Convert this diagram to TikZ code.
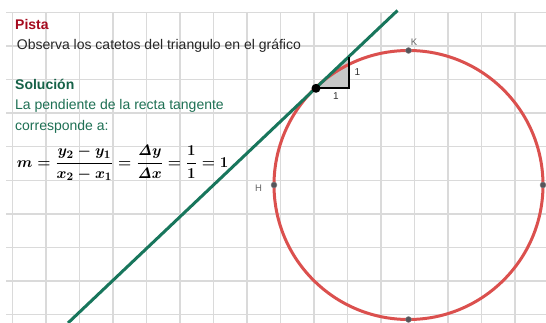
\documentclass[tikz,border=0pt]{standalone}
\usepackage{graphicx}
\usepackage[no-math]{fontspec}
\setmainfont{Liberation Sans}
\definecolor{gridc}{RGB}{218,218,218}
\definecolor{circc}{RGB}{219,80,78}
\definecolor{linec}{RGB}{24,118,92}
\definecolor{pistac}{RGB}{165,10,30}
\definecolor{solc}{RGB}{22,98,72}
\definecolor{txtc}{RGB}{30,112,84}
\definecolor{ptc}{RGB}{85,85,90}
\newsavebox{\myeqbox}
\tikzset{
  gridline/.style={gridc,line width=1.4pt},
  txt/.style={anchor=base west,inner sep=0pt,font=\fontsize{14}{16}\selectfont},
  smalllab/.style={inner sep=0pt,font=\fontsize{9.5}{11}\selectfont,text=black!60},
  onelab/.style={inner sep=0pt,font=\fontsize{10}{12}\selectfont,text=black!80},
  cpoint/.style={circle,fill=ptc,draw=ptc!70,inner sep=0pt,minimum size=6pt},
}
\begin{document}
\begin{tikzpicture}[x=1pt,y=-1pt]
\useasboundingbox (0,0) rectangle (546,323);
\fill[white] (0,0) rectangle (546,323);
% grid
\foreach \k in {0,...,15} {
  \draw[gridline] ({12.3+33.5*\k},12.3) -- ({12.3+33.5*\k},323);
}
\foreach \k in {0,...,9} {
  \draw[gridline] (6,{12.3+33.6*\k}) -- (546,{12.3+33.6*\k});
}
% texts
\node[txt,text=pistac,font=\fontsize{14}{16}\selectfont\bfseries] (pista) at (15,29.3) {Pista};
\node[txt,text=black!85] (obs) at (16.7,50) {Observa los catetos del triangulo en el gráfico};
\node[txt,text=solc,font=\fontsize{14}{16}\selectfont\bfseries] (sol) at (15,89.3) {Solución};
\node[txt,text=txtc] (pend) at (15,110) {La pendiente de la recta tangente};
\node[txt,text=txtc] (corr) at (15,131) {corresponde a:};
\sbox{\myeqbox}{\scalebox{1.05}{\fontsize{15.5}{18}\selectfont\mathversion{bold}$\displaystyle m=\frac{y_2-y_1}{x_2-x_1}=\frac{\mathit{\Delta} y}{\mathit{\Delta} x}=\frac{1}{1}=1$}}
\node[anchor=west,inner sep=0pt,text=black!85] (eq) at (16.7,163.3) {\usebox{\myeqbox}};
% triangle
\coordinate (P) at (316,88.3);
\coordinate (R) at (349,88.3);
\coordinate (T) at (349,57);
\fill[black!22] (P) -- (R) -- (T) -- cycle;
% circle
\coordinate (C) at (408.5,185);
\draw[circc,line width=3pt] (C) circle[radius=134.5pt];
% line
\coordinate (L1) at (68,323);
\coordinate (L2) at (397.5,10.5);
\draw[linec,line width=3pt] (L1) -- (L2);
\draw[black,line width=1.6pt] (P) -- (R) -- (T);
% points
\node[cpoint] (H) at (274,185) {};
\node[cpoint] (K) at (408.5,50.5) {};
\node[cpoint] (E) at (543,185) {};
\node[cpoint] (B) at (408.5,319.5) {};
\node[circle,fill=black,inner sep=0pt,minimum size=9pt] (Pt) at (P) {};
% labels
\node[smalllab] (Hl) at (258.5,188.5) {H};
\node[smalllab] (Kl) at (414,42) {K};
\node[onelab] (one1) at (357.3,71.7) {1};
\node[onelab] (one2) at (336,96) {1};
\end{tikzpicture}
\end{document}
